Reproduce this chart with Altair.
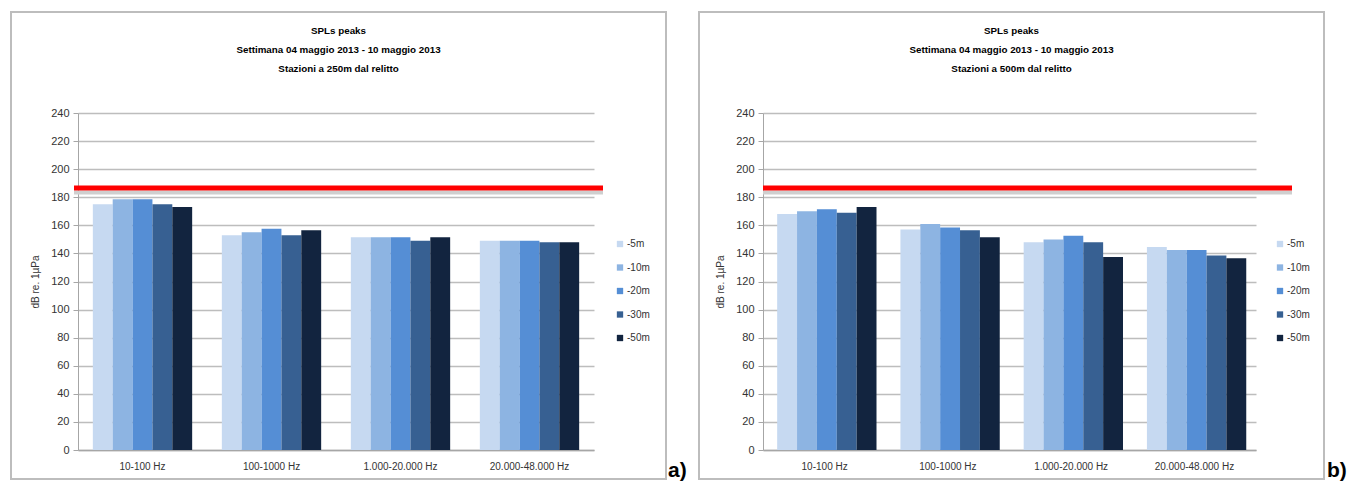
import altair as alt
import pandas as pd

# ---------------- data ----------------
categories = ["10-100 Hz", "100-1000 Hz", "1.000-20.000 Hz", "20.000-48.000 Hz"]
depths = ["-5m", "-10m", "-20m", "-30m", "-50m"]
colors = ["#C6D9F1", "#8DB4E2", "#558ED5", "#376092", "#12243F"]

# panel a) stations at 250 m
spl_250_5m = [175, 153, 151.5, 149]
spl_250_10m = [178.5, 155, 151.5, 149]
spl_250_20m = [178.5, 157.5, 151.5, 149]
spl_250_30m = [175, 153, 149, 148]
spl_250_50m = [173, 156.5, 151.5, 148]

# panel b) stations at 500 m
spl_500_5m = [168, 157, 148, 144.5]
spl_500_10m = [170, 161, 150, 142.5]
spl_500_20m = [171.5, 158.5, 152.5, 142.5]
spl_500_30m = [169, 156.5, 148, 138.5]
spl_500_50m = [173, 151.5, 137.5, 136.5]

threshold = [186.5]
y_ticks = list(range(0, 241, 20))

title_line1 = "SPLs peaks"
title_line2 = "Settimana 04 maggio 2013 - 10 maggio 2013"
title_a = "Stazioni a 250m dal relitto"
title_b = "Stazioni a 500m dal relitto"

TITLE_FONT = "Liberation Sans, sans-serif"
BODY_FONT = "Liberation Sans, sans-serif"
H = 337


def make_df(series):
    rows = []
    for d, vals in zip(depths, series):
        for c, v in zip(categories, vals):
            rows.append({"band": c, "depth": d, "spl": v})
    return pd.DataFrame(rows)


def y_axis():
    return alt.Axis(values=y_ticks, labelOverlap=False,
                    title="dB re. 1µPa",
                    titleFont=BODY_FONT, titleFontSize=10,
                    titleFontWeight="normal", titleColor="#333333",
                    titleAngle=270, titleX=-43, titleY=H / 2,
                    titleAlign="center", titleBaseline="middle",
                    labelFont=BODY_FONT, labelFontSize=11,
                    labelColor="#333333", labelPadding=4,
                    tickSize=5, tickColor="#A6A6A6",
                    domainColor="#A6A6A6", domainWidth=1,
                    gridColor="#BDBDBD", gridWidth=1.5)


def y_scale():
    return alt.Scale(domain=[0, 240], nice=False)


def panel(series, line3, width, frame, extent, red, legend_x, tag, tag_x):
    df = make_df(series)
    one = alt.Data(values=[{"k": 0}])
    thr = pd.DataFrame({"spl": threshold})

    extent_rect = alt.Chart(one).mark_rect(opacity=0).encode(
        x=alt.value(extent[0]), x2=alt.value(extent[1]),
        y=alt.value(-105), y2=alt.value(369))

    frame_rect = alt.Chart(one).mark_rect(
        fillOpacity=0, stroke="#BDBDBD", strokeWidth=2).encode(
        x=alt.value(frame[0]), x2=alt.value(frame[1]),
        y=alt.value(-101), y2=alt.value(366))

    bars = alt.Chart(df).mark_bar().encode(
        x=alt.X("band:N", sort=categories,
                scale=alt.Scale(paddingInner=0.23, paddingOuter=0.115),
                axis=alt.Axis(title=None, labelAngle=0, ticks=False, tickSize=0,
                              labelPadding=11, labelFontSize=10,
                              labelFont=BODY_FONT, labelColor="#333333",
                              domainColor="#A6A6A6", domainWidth=1.5)),
        xOffset=alt.XOffset("depth:N", sort=depths,
                            scale=alt.Scale(paddingInner=0, paddingOuter=0)),
        y=alt.Y("spl:Q", scale=y_scale(), axis=y_axis()),
        color=alt.Color("depth:N", sort=depths,
                        scale=alt.Scale(domain=depths, range=colors),
                        legend=alt.Legend(orient="none", legendX=legend_x,
                                          legendY=126, title=None,
                                          symbolType="square", symbolSize=40,
                                          symbolStrokeWidth=0,
                                          labelFont=BODY_FONT, labelFontSize=10,
                                          labelColor="#333333", rowPadding=13.5,
                                          labelOffset=2)),
    )

    shadow = alt.Chart(thr).mark_rule(color="#CFCFCF", strokeWidth=4,
                                      yOffset=4.5).encode(
        y=alt.Y("spl:Q", scale=y_scale(), axis=y_axis()),
        x=alt.value(red[0]), x2=alt.value(red[1]))
    redline = alt.Chart(thr).mark_rule(color="#FF0000", strokeWidth=5).encode(
        y=alt.Y("spl:Q", scale=y_scale(), axis=y_axis()),
        x=alt.value(red[0]), x2=alt.value(red[1]))

    cx = (frame[0] + frame[1]) / 2
    texts = []
    for txt, yy in [(title_line1, -82), (title_line2, -63), (line3, -44)]:
        texts.append(alt.Chart(one).mark_text(
            font=TITLE_FONT, fontSize=9.8, fontWeight="bold", color="#000000",
            align="center", baseline="middle").encode(
            x=alt.value(cx), y=alt.value(yy), text=alt.value(txt)))

    tag_text = alt.Chart(one).mark_text(
        font=BODY_FONT, fontSize=21, fontWeight="bold", color="#000000",
        align="left", baseline="alphabetic").encode(
        x=alt.value(tag_x), y=alt.value(364), text=alt.value(tag))

    return alt.layer(extent_rect, frame_rect, bars, shadow, redline,
                     *texts, tag_text).properties(width=width, height=H)


left = panel([spl_250_5m, spl_250_10m, spl_250_20m, spl_250_30m, spl_250_50m],
             title_a, 516, (-67, 588), (-70, 617), (-4, 525), 537, "a)", 590)
right = panel([spl_500_5m, spl_500_10m, spl_500_20m, spl_500_30m, spl_500_50m],
              title_b, 493, (-64, 561), (-66, 587), (0, 529), 512, "b)", 564)

chart = alt.hconcat(left, right, spacing=2).resolve_scale(
    color="independent", x="independent", y="independent"
).resolve_legend(color="independent").properties(
    padding={"left": 8, "top": 8, "right": 0, "bottom": 0},
    background="white",
).configure_view(stroke=None)

chart.save("out.html", embed_options={"renderer": "svg", "actions": False})
